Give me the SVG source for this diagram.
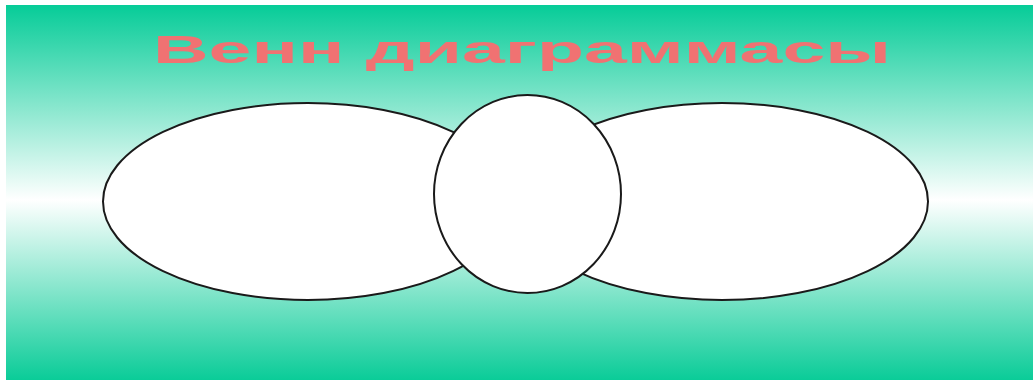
<svg xmlns="http://www.w3.org/2000/svg" width="1033" height="380" viewBox="0 0 1033 380">
<defs>
<linearGradient id="bg" x1="0" y1="5" x2="0" y2="380" gradientUnits="userSpaceOnUse">
<stop offset="0" stop-color="#06CC98"/>
<stop offset="0.52" stop-color="#FFFFFF"/>
<stop offset="1" stop-color="#0ACC98"/>
</linearGradient>
<style>
.set{fill:#FFFFFF;stroke:#1A1A1A;stroke-width:2}
.title{font-family:"Liberation Sans",Arial,sans-serif;font-weight:bold;font-size:39px;fill:#F07272}
</style>
</defs>
<rect x="0" y="0" width="1033" height="380" fill="#FFFFFF"/>
<rect x="6" y="5" width="1027" height="375" fill="url(#bg)"/>
<text class="title" x="153" y="63" textLength="738" lengthAdjust="spacingAndGlyphs">Венн диаграммасы</text>
<g id="set-left"><ellipse class="set" cx="308" cy="201.5" rx="205" ry="98.5"/></g>
<g id="set-right"><ellipse class="set" cx="722" cy="201.5" rx="206" ry="98.5"/></g>
<g id="set-middle"><ellipse class="set" cx="527.5" cy="194" rx="93.5" ry="99"/></g>
<g id="connectors"></g>
</svg>
